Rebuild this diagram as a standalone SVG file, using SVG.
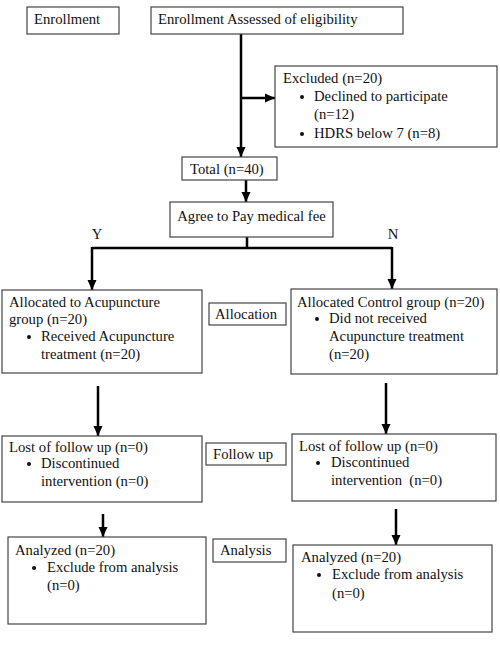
<svg xmlns="http://www.w3.org/2000/svg" width="500" height="648" viewBox="0 0 500 648">
<style>
.box{fill:#fff;stroke:#444;stroke-width:1.2}
text{font-family:"Liberation Serif","Times New Roman",serif;font-size:14.7px;fill:#111}
.c{fill:none;stroke:#000;stroke-width:2.5}
.b{fill:#111}
</style>
<defs>
<marker id="ah" markerUnits="userSpaceOnUse" markerWidth="10" markerHeight="10" viewBox="0 0 10 10" refX="10" refY="5" orient="auto">
<path d="M0,0.5 L10,5 L0,9.5 Z" fill="#000"/>
</marker>
</defs>
<rect width="500" height="648" fill="#fff"/>
<g id="connectors">
<path class="c" d="M241,34 V157" marker-end="url(#ah)"/>
<path class="c" d="M241,98 H275" marker-end="url(#ah)"/>
<path class="c" d="M246,180 V202" marker-end="url(#ah)"/>
<path class="c" d="M247,237 V248 M92,248 H392"/>
<path class="c" d="M92,247 V290" marker-end="url(#ah)"/>
<path class="c" d="M392,247 V289" marker-end="url(#ah)"/>
<path class="c" d="M98,386 V436" marker-end="url(#ah)"/>
<path class="c" d="M386,383 V434" marker-end="url(#ah)"/>
<path class="c" d="M103,514 V537" marker-end="url(#ah)"/>
<path class="c" d="M396,509 V545" marker-end="url(#ah)"/>
<text x="97" y="239" text-anchor="middle">Y</text>
<text x="393" y="239" text-anchor="middle">N</text>
</g>
<g id="enrollment-label">
<rect class="box" x="27" y="7" width="92" height="27"/>
<text x="34" y="24">Enrollment</text>
</g>
<g id="assessed">
<rect class="box" x="151" y="7" width="252" height="27"/>
<text x="158" y="24">Enrollment Assessed of eligibility</text>
</g>
<g id="excluded">
<rect class="box" x="275" y="66" width="222" height="81"/>
<text x="283" y="83">Excluded (n=20)</text>
<circle class="b" cx="302" cy="97" r="2"/>
<text x="314" y="101">Declined to participate</text>
<text x="314" y="119">(n=12)</text>
<circle class="b" cx="302" cy="134" r="2"/>
<text x="314" y="138">HDRS below 7 (n=8)</text>
</g>
<g id="total">
<rect class="box" x="182" y="157" width="95" height="23"/>
<text x="190" y="174">Total (n=40)</text>
</g>
<g id="agree">
<rect class="box" x="170" y="202" width="163" height="35"/>
<text x="251.5" y="221" text-anchor="middle">Agree to Pay medical fee</text>
</g>
<g id="alloc-acu">
<rect class="box" x="2" y="290" width="200" height="83"/>
<text x="9" y="307">Allocated to Acupuncture</text>
<text x="9" y="324">group (n=20)</text>
<circle class="b" cx="29" cy="337" r="2"/>
<text x="41" y="341">Received Acupuncture</text>
<text x="41" y="359">treatment (n=20)</text>
</g>
<g id="allocation-label">
<rect class="box" x="209" y="303" width="77" height="22"/>
<text x="215" y="319">Allocation</text>
</g>
<g id="alloc-control">
<rect class="box" x="291" y="289" width="206" height="85"/>
<text x="297" y="307">Allocated Control group (n=20)</text>
<circle class="b" cx="317" cy="319" r="2"/>
<text x="329" y="323">Did not received</text>
<text x="329" y="341">Acupuncture treatment</text>
<text x="329" y="359">(n=20)</text>
</g>
<g id="lost-acu">
<rect class="box" x="2" y="436" width="200" height="66"/>
<text x="9" y="452">Lost of follow up (n=0)</text>
<circle class="b" cx="29" cy="464" r="2"/>
<text x="41" y="468">Discontinued</text>
<text x="41" y="486">intervention (n=0)</text>
</g>
<g id="followup-label">
<rect class="box" x="206" y="443" width="80" height="22"/>
<text x="213" y="459">Follow up</text>
</g>
<g id="lost-control">
<rect class="box" x="292" y="434" width="204" height="67"/>
<text x="299" y="451">Lost of follow up (n=0)</text>
<circle class="b" cx="318" cy="463" r="2"/>
<text x="331" y="467">Discontinued</text>
<text x="331" y="485" xml:space="preserve">intervention  (n=0)</text>
</g>
<g id="analyzed-acu">
<rect class="box" x="8" y="537" width="198" height="87"/>
<text x="15" y="555">Analyzed (n=20)</text>
<circle class="b" cx="34" cy="568" r="2"/>
<text x="47" y="572">Exclude from analysis</text>
<text x="47" y="590">(n=0)</text>
</g>
<g id="analysis-label">
<rect class="box" x="213" y="539" width="73" height="23"/>
<text x="220" y="555">Analysis</text>
</g>
<g id="analyzed-control">
<rect class="box" x="293" y="545" width="199" height="87"/>
<text x="301" y="562">Analyzed (n=20)</text>
<circle class="b" cx="319" cy="575" r="2"/>
<text x="332" y="579">Exclude from analysis</text>
<text x="332" y="598">(n=0)</text>
</g>
</svg>
